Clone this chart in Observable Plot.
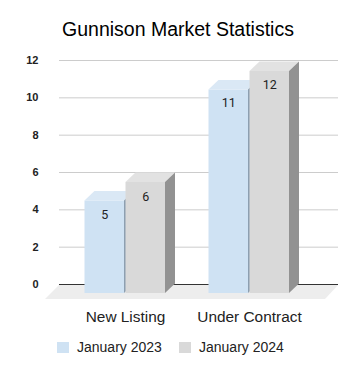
<!DOCTYPE html>
<html>
<head>
<meta charset="utf-8">
<script src="https://cdn.jsdelivr.net/npm/d3@7"></script>
<script src="https://cdn.jsdelivr.net/npm/@observablehq/plot@0.6"></script>
<style>
  html, body { margin: 0; padding: 0; background: #fff; }
  #wrap { width: 356px; height: 370px; position: relative; overflow: hidden; font-family: "Liberation Sans", Arial, sans-serif; }
  #title { height: 50px; box-sizing: border-box; padding-top: 19.5px; font-size: 19.5px; line-height: 19.5px; text-align: center; color: #000; }
  #legend { position: relative; height: 40px; }
  .sw { position: absolute; top: 11.5px; width: 12px; height: 11px; }
  .lt { position: absolute; top: 10px; font-size: 14px; line-height: 14px; color: #222; white-space: nowrap; }
  svg { display: block; }
</style>
</head>
<body>
<div id="wrap">
  <div id="title">Gunnison Market Statistics</div>
  <div id="chart"></div>
  <div id="legend"></div>
</div>
<script>
// ---- data ----
const title = "Gunnison Market Statistics";
const categories = ["New Listing", "Under Contract"];
const seriesNames = ["January 2023", "January 2024"];
const jan2023 = [5, 11];
const jan2024 = [6, 12];
const yTicks = [0, 2, 4, 6, 8, 10, 12];

// ---- styles ----
const seriesStyle = {
  "January 2023": { x0: -40.5, x1: -1, front: "#cfe2f3", top: "#dae8f5", side: "#8d9fb0", labelDx: -20.75 },
  "January 2024": { x0: 0.5, x1: 40, front: "#d9d9d9", top: "#e2e2e2", side: "#929292", labelDx: 20.25 }
};
const DX = 10, DY = -9.5, FRONT_DROP = 9;

const rows = [];
categories.forEach((c, i) => {
  rows.push({ category: c, series: seriesNames[0], value: jan2023[i] });
  rows.push({ category: c, series: seriesNames[1], value: jan2024[i] });
});

function bars3d(name) {
  const s = seriesStyle[name];
  const data = rows.filter(d => d.series === name);
  return Plot.dot(data, {
    x: "category",
    y: "value",
    render(index, scales, values) {
      const g = d3.create("svg:g");
      const y0 = scales.y(0);
      const yb = y0 + FRONT_DROP;
      for (const i of index) {
        const c = values.x[i];
        const yt = yb - (y0 - values.y[i]) * 0.991;
        const L = c + s.x0, R = c + s.x1;
        g.append("rect").attr("x", L).attr("y", yt).attr("width", R - L).attr("height", yb - yt).attr("fill", s.front);
        g.append("polygon").attr("points", `${L},${yt} ${R},${yt} ${R + DX},${yt + DY} ${L + DX},${yt + DY}`).attr("fill", s.top);
        g.append("polygon").attr("points", `${R},${yt} ${R + DX},${yt + DY} ${R + DX},${yb + DY} ${R},${yb}`).attr("fill", s.side);
      }
      return g.node();
    }
  });
}

const floor = Plot.ruleY([0], {
  render(index, scales, values, dims) {
    const y0 = scales.y(0);
    const l = dims.marginLeft, r = dims.width - dims.marginRight;
    const g = d3.create("svg:g");
    g.append("polygon")
      .attr("points", `${l},${y0 + 1} ${r},${y0 + 1} ${r - 13},${y0 + 15} ${l - 14},${y0 + 15}`)
      .attr("fill", "#ededed");
    return g.node();
  }
});

const chart = Plot.plot({
  width: 356,
  height: 280,
  marginLeft: 59,
  marginRight: 18,
  marginTop: 10,
  marginBottom: 46,
  style: { fontFamily: "'Liberation Sans', Arial, sans-serif", color: "#222", background: "#fff", overflow: "visible" },
  x: { type: "point", domain: categories, range: [124.5, 249.25], padding: 0, label: null },
  y: { domain: [0, 12], label: null },
  marks: [
    floor,
    Plot.gridY(yTicks.filter(t => t > 0), { stroke: "#cccccc", strokeOpacity: 1 }),
    Plot.ruleY([0], { stroke: "#333" }),
    Plot.axisY(yTicks, { tickSize: 0, tickPadding: 21, fontWeight: "bold", fontSize: 11, fill: "#222" }),
    Plot.axisX({ tickSize: 0, tickPadding: 27, fontSize: 15.4, fill: "#222" }),
    ...seriesNames.map(bars3d),
    ...seriesNames.map(name => Plot.text(rows.filter(d => d.series === name), {
      x: "category", y: "value", text: d => String(d.value),
      dx: seriesStyle[name].labelDx, dy: 24,
      fontSize: 12.5, fontFamily: "Roboto, sans-serif", fill: "#222"
    }))
  ]
});
document.getElementById("chart").appendChild(chart);

// legend
const legend = document.getElementById("legend");
const legendPos = [{ sw: 57, tx: 77 }, { sw: 179, tx: 199 }];
seriesNames.forEach((name, i) => {
  const sw = document.createElement("div");
  sw.className = "sw";
  sw.style.left = legendPos[i].sw + "px";
  sw.style.background = seriesStyle[name].front;
  const t = document.createElement("div");
  t.className = "lt";
  t.style.left = legendPos[i].tx + "px";
  t.textContent = name;
  legend.appendChild(sw);
  legend.appendChild(t);
});
</script>
</body>
</html>
